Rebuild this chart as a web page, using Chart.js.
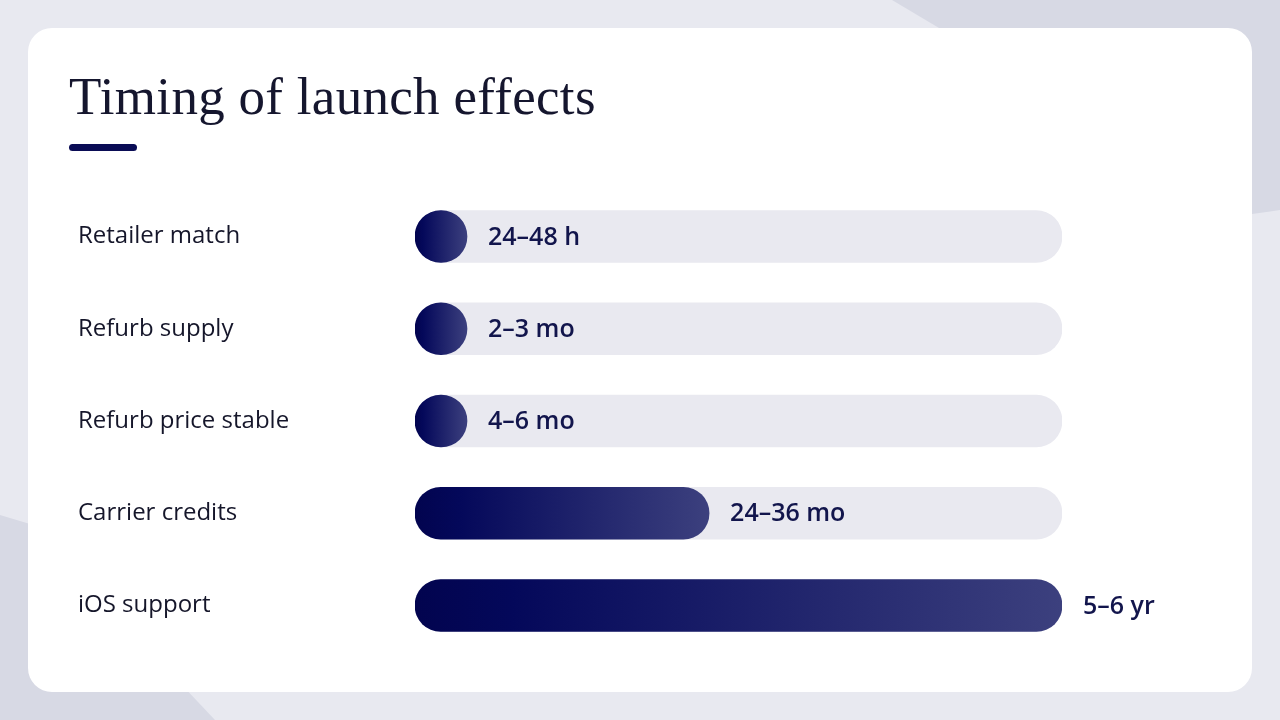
<!DOCTYPE html>
<html>
<head>
<meta charset="utf-8">
<script src="https://cdn.jsdelivr.net/npm/chart.js@4"></script>
<style>
  html, body { margin: 0; padding: 0; }
  body { width: 1280px; height: 720px; background: #e8e9f0; position: relative; overflow: hidden; }
  .shape { position: absolute; inset: 0; background: #d7d9e4; }
  .shape.tr { clip-path: polygon(892px 0, 1280px 0, 1280px 210px, 1252px 214px); }
  .shape.bl { clip-path: polygon(0 515px, 30px 524px, 215px 720px, 0 720px); }
  .card { position: absolute; left: 28px; top: 28px; width: 1224px; height: 664px; background: #fff; border-radius: 24px; }
  h1 { position: absolute; left: 69px; top: 66px; margin: 0; font-family: "Liberation Serif", serif; font-weight: 400; font-size: 53px; line-height: 1.15; color: #15162e; letter-spacing: 0.3px; }
  .accent { position: absolute; left: 69px; top: 144px; width: 68px; height: 7px; border-radius: 4px; background: #0a0c55; }
  #wrap { position: absolute; left: 78px; top: 173px; width: 1100px; height: 496px; }
</style>
</head>
<body>
<div class="shape tr"></div>
<div class="shape bl"></div>
<div class="card"></div>
<h1>Timing of launch effects</h1>
<div class="accent"></div>
<div id="wrap"><canvas id="chart"></canvas></div>
<script>
// effects, their time to kick in (months, midpoint of the range) and the shown label
const effects = ["Retailer match", "Refurb supply", "Refurb price stable", "Carrier credits", "iOS support"];
const months = [0.05, 2.5, 5, 30, 66];
const rangeLabels = ["24–48 h", "2–3 mo", "4–6 mo", "24–36 mo", "5–6 yr"];
const scaleMax = 66;
const track = effects.map(() => scaleMax);

const MIN_BAR = 52;

function barFill(ctx) {
  const chart = ctx.chart;
  if (!chart.chartArea || ctx.type !== "data") return "#0a0c55";
  const x = chart.scales.x;
  const base = x.getPixelForValue(0);
  const end = Math.max(x.getPixelForValue(months[ctx.dataIndex]), base + MIN_BAR);
  const g = chart.ctx.createLinearGradient(base, 0, end, 0);
  g.addColorStop(0, "#02044f");
  g.addColorStop(0.15, "#04085a");
  g.addColorStop(1, "#3c407e");
  return g;
}

const valueLabels = {
  id: "valueLabels",
  afterDatasetsDraw(chart) {
    const ctx = chart.ctx;
    const meta = chart.getDatasetMeta(1);
    ctx.save();
    ctx.font = "600 25px 'Open Sans'";
    ctx.fillStyle = "#12154c";
    ctx.textBaseline = "middle";
    ctx.textAlign = "left";
    meta.data.forEach((bar, i) => {
      ctx.fillText(rangeLabels[i], bar.x + 21, bar.y + 1);
    });
    ctx.restore();
  }
};

new Chart(document.getElementById("chart"), {
  type: "bar",
  data: {
    labels: effects,
    datasets: [
      {
        label: "track",
        data: track,
        backgroundColor: "#e9e9f0",
        borderRadius: 26,
        borderSkipped: false,
        barThickness: 52,
        grouped: false,
        order: 2
      },
      {
        label: "months",
        data: months,
        backgroundColor: barFill,
        borderRadius: 26,
        borderSkipped: false,
        barThickness: 52,
        minBarLength: MIN_BAR,
        grouped: false,
        order: 1
      }
    ]
  },
  options: {
    indexAxis: "y",
    responsive: true,
    maintainAspectRatio: false,
    animation: false,
    layout: { padding: { left: 0, right: 116, top: 0, bottom: 0 } },
    plugins: { legend: { display: false }, tooltip: { enabled: false } },
    scales: {
      x: { min: 0, max: scaleMax, display: false },
      y: {
        grid: { display: false },
        border: { display: false },
        afterFit(axis) { axis.width = 337; },
        ticks: {
          crossAlign: "far",
          color: "#15162a",
          font: { family: "'Open Sans'", size: 24, weight: "500" }
        }
      }
    }
  },
  plugins: [valueLabels]
});
</script>
</body>
</html>
